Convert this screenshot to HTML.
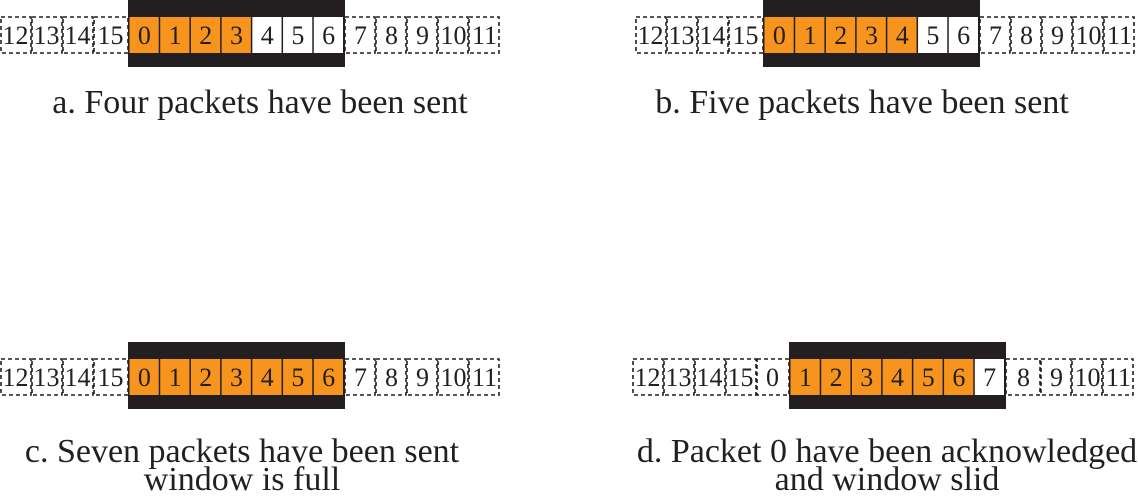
<!DOCTYPE html>
<html><head><meta charset="utf-8"><style>
body{margin:0;background:#fff;width:1138px;height:504px;overflow:hidden}
svg{display:block}
text{font-family:"Liberation Serif",serif;fill:#231f20}
</style></head><body>
<svg id="s" width="1138" height="504"></svg>
<script>
const panelIds=['a','b','c','d'];
const panelX=[0,635,0,632];
const panelY=[0,0,342,342];
const leftSeq=[[12,13,14,15],[12,13,14,15],[12,13,14,15],[12,13,14,15,0]];
const windowSeq=[[0,1,2,3,4,5,6],[0,1,2,3,4,5,6],[0,1,2,3,4,5,6],[1,2,3,4,5,6,7]];
const sentCount=[4,5,7,6];
const rightSeq=[[7,8,9,10,11],[7,8,9,10,11],[7,8,9,10,11],[8,9,10,11]];
const captions=[["a. Four packets have been sent"],["b. Five packets have been sent"],["c. Seven packets have been sent","window is full"],["d. Packet 0 have been acknowledged","and window slid"]];
const captionCx=[260,862,242,887];
const NS='http://www.w3.org/2000/svg';
const svg=document.getElementById('s');
function mk(t,a,p){const e=document.createElementNS(NS,t);for(const k in a)e.setAttribute(k,a[k]);(p||svg).appendChild(e);return e;}
const CW=31, WW=217, CT=17, CH=36, WH=67, FS=26;
panelIds.forEach((id,i)=>{
  const g=mk('g',{});
  
  
  const x0=panelX[i], y0=panelY[i];
  const L=leftSeq[i];
  const wx=x0+L.length*CW+(i==3?2:4);
  L.forEach((n,j)=>{
    const cx=x0+j*CW, w=(j==L.length-1)?wx-cx:CW;
    const r=mk('rect',{x:cx+1,y:y0+CT,width:w-1,height:CH,fill:'none',stroke:'#231f20','stroke-width':1.6,'stroke-dasharray':'4 3'},g);
    
    
    const t=mk('text',{x:cx+w/2,y:y0+CT+CH/2+9,'text-anchor':'middle','font-size':FS},g);t.textContent=n;
  });
  const wr=mk('rect',{x:wx,y:y0,width:WW,height:WH,fill:'#231f20'},g);
  
  
  const cw=(WW-2)/7;
  windowSeq[i].forEach((n,j)=>{
    const cx=wx+1+j*cw;
    const r=mk('rect',{x:cx+0.5,y:y0+CT,width:cw-1.5,height:CH,fill:j<sentCount[i]?'#f7941d':'#fff'},g);
    
    
    const t=mk('text',{x:cx+cw/2,y:y0+CT+CH/2+9,'text-anchor':'middle','font-size':FS},g);t.textContent=n;
  });
  const rx=wx+WW;
  rightSeq[i].forEach((n,j)=>{
    const w=(i==3&&j==0)?35:CW;
    const cx=rx+(i==3&&j>0?35+(j-1)*CW:j*CW);
    const r=mk('rect',{x:cx,y:y0+CT,width:w-1,height:CH,fill:'none',stroke:'#231f20','stroke-width':1.6,'stroke-dasharray':'4 3'},g);
    
    
    const t=mk('text',{x:cx+w/2,y:y0+CT+CH/2+9,'text-anchor':'middle','font-size':FS},g);t.textContent=n;
  });
  captions[i].forEach((c,k)=>{
    const t=mk('text',{x:captionCx[i],y:(y0?462:113)+k*28,'text-anchor':'middle','font-size':34},g);
    t.textContent=c;
    
    
  });
});
</script>
</body></html>
